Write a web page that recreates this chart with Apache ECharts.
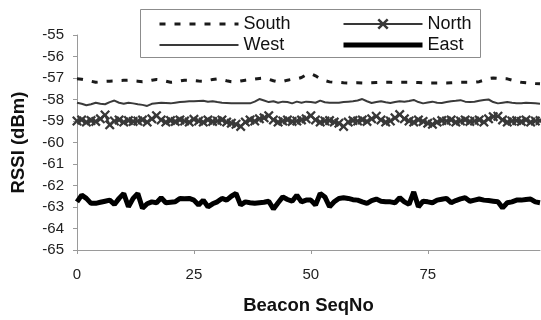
<!DOCTYPE html>
<html>
<head>
<meta charset="utf-8">
<script src="https://cdn.jsdelivr.net/npm/echarts@6/dist/echarts.min.js"></script>
<style>
html,body{margin:0;padding:0;background:#fff;}
#c{width:541px;height:320px;}
</style>
</head>
<body>
<div id="c"></div>
<script>
var seqNo = [];
for (var k = 0; k < 100; k++) seqNo.push(k);

var xTicks = [0, 25, 50, 75];
var yTicks = [-55, -56, -57, -58, -59, -60, -61, -62, -63, -64, -65];

var south = [-57.04,-57.06,-57.1,-57.15,-57.2,-57.18,-57.16,-57.15,-57.14,-57.12,
-57.11,-57.1,-57.13,-57.15,-57.17,-57.14,-57.1,-57.07,-57.1,-57.15,
-57.2,-57.18,-57.14,-57.1,-57.1,-57.12,-57.14,-57.15,-57.11,-57.07,
-57.04,-57.08,-57.13,-57.17,-57.18,-57.14,-57.1,-57.07,-57.05,-57.02,
-57.0,-57.06,-57.13,-57.18,-57.16,-57.1,-57.06,-57.04,-56.98,-56.85,
-56.8,-56.9,-57.04,-57.12,-57.18,-57.2,-57.2,-57.22,-57.23,-57.23,
-57.22,-57.23,-57.23,-57.22,-57.21,-57.2,-57.2,-57.2,-57.21,-57.2,
-57.2,-57.2,-57.2,-57.21,-57.22,-57.23,-57.23,-57.23,-57.23,-57.23,
-57.22,-57.21,-57.2,-57.2,-57.2,-57.2,-57.17,-57.1,-57.03,-57.0,
-57.02,-57.03,-57.04,-57.1,-57.16,-57.2,-57.22,-57.24,-57.26,-57.27];

var north = [-59.0,-58.95,-59.05,-58.98,-59.02,-58.9,-58.72,-59.18,-59.0,-58.95,
-59.05,-58.98,-59.02,-59.0,-58.95,-59.05,-58.9,-58.75,-58.95,-59.05,
-58.98,-59.02,-58.95,-59.0,-59.05,-58.92,-59.0,-59.05,-58.95,-59.02,
-59.0,-58.95,-59.05,-59.1,-59.15,-59.25,-59.05,-58.95,-59.0,-58.9,
-58.85,-58.75,-58.95,-59.05,-59.0,-58.95,-59.02,-59.0,-58.95,-58.9,
-58.75,-58.95,-59.05,-59.0,-58.98,-59.05,-59.1,-59.25,-59.05,-58.98,
-59.0,-58.95,-59.02,-58.9,-58.78,-58.95,-59.05,-59.0,-58.85,-58.7,
-58.9,-59.0,-59.05,-58.95,-59.02,-59.1,-59.15,-59.05,-58.98,-59.0,
-58.95,-59.05,-59.0,-58.95,-59.02,-59.0,-58.95,-59.05,-58.9,-58.8,
-58.78,-58.95,-59.05,-59.0,-58.98,-59.02,-58.95,-59.05,-59.0,-58.98];

var west = [-58.15,-58.2,-58.27,-58.22,-58.15,-58.2,-58.22,-58.12,-58.05,-58.15,
-58.2,-58.15,-58.18,-58.22,-58.25,-58.3,-58.2,-58.17,-58.15,-58.16,
-58.18,-58.15,-58.12,-58.1,-58.08,-58.08,-58.07,-58.06,-58.1,-58.08,
-58.12,-58.15,-58.16,-58.18,-58.18,-58.17,-58.18,-58.18,-58.1,-57.98,
-58.05,-58.12,-58.08,-58.15,-58.1,-58.12,-58.18,-58.1,-58.15,-58.1,
-58.12,-58.15,-58.05,-58.13,-58.15,-58.15,-58.15,-58.12,-58.1,-58.08,
-58.05,-57.98,-58.08,-58.16,-58.12,-58.08,-58.13,-58.16,-58.12,-58.08,
-58.1,-58.07,-58.02,-58.12,-58.18,-58.14,-58.1,-58.15,-58.16,-58.12,
-58.08,-58.06,-58.03,-58.1,-58.12,-58.1,-58.06,-58.02,-58.0,-58.12,
-58.18,-58.15,-58.12,-58.15,-58.17,-58.17,-58.15,-58.16,-58.18,-58.2];

var east = [-62.76,-62.45,-62.6,-62.83,-62.83,-62.78,-62.73,-62.68,-62.88,-62.6,
-62.37,-62.99,-62.6,-62.37,-63.06,-62.85,-62.76,-62.8,-62.57,-62.8,
-62.78,-62.76,-62.6,-62.62,-62.6,-62.68,-62.91,-62.68,-62.99,-62.85,
-62.76,-62.6,-62.68,-62.5,-62.37,-62.91,-62.76,-62.8,-62.83,-62.8,
-62.78,-62.73,-63.09,-62.8,-62.53,-62.65,-62.73,-62.45,-62.76,-62.68,
-62.68,-62.91,-62.37,-62.53,-62.99,-62.76,-62.6,-62.57,-62.6,-62.66,
-62.68,-62.76,-62.83,-62.7,-62.63,-62.73,-62.76,-62.76,-62.8,-62.57,
-62.76,-62.88,-62.3,-62.99,-62.73,-62.76,-62.8,-62.68,-62.64,-62.6,
-62.8,-62.7,-62.62,-62.57,-62.73,-62.68,-62.63,-62.68,-62.7,-62.73,
-62.76,-63.04,-62.8,-62.76,-62.68,-62.68,-62.65,-62.63,-62.76,-62.8];

function pairs(vals) {
  return vals.map(function (v, i) { return [seqNo[i], v]; });
}

var FONT = '"Liberation Sans", Arial, sans-serif';
var xMark = 'path://M0,1.6L1.6,0L5,3.4L8.4,0L10,1.6L6.6,5L10,8.4L8.4,10L5,6.6L1.6,10L0,8.4L3.4,5Z';
var hideSym = {opacity: 0};

var chart = echarts.init(document.getElementById('c'), null, {renderer: 'canvas'});
chart.setOption({
  animation: false,
  backgroundColor: '#ffffff',
  textStyle: {fontFamily: FONT},
  grid: {left: 77, right: 1, top: 35, bottom: 68, containLabel: false},
  graphic: [{
    type: 'rect', left: 140, top: 9, z: 0,
    shape: {width: 340, height: 48},
    style: {fill: '#fff', stroke: '#8c8c8c', lineWidth: 1}
  }],
  legend: [{
    orient: 'vertical', left: 153, top: 10, itemWidth: 79, itemHeight: 14, itemGap: 3,
    data: [
      {name: 'South', itemStyle: hideSym, lineStyle: {width: 3, type: [6, 9]}},
      {name: 'West', itemStyle: hideSym, lineStyle: {width: 2}}
    ], z: 5,
    textStyle: {fontFamily: FONT, fontSize: 18, color: '#111'}
  }, {
    orient: 'vertical', left: 336, top: 10, itemWidth: 79, itemHeight: 14, itemGap: 3,
    data: [
      {name: 'North', lineStyle: {width: 2}},
      {name: 'East', itemStyle: hideSym, lineStyle: {width: 5}}
    ], z: 5,
    textStyle: {fontFamily: FONT, fontSize: 18, color: '#111'}
  }],
  xAxis: {
    type: 'value', min: 0, max: 99, interval: 25,
    name: 'Beacon SeqNo', nameLocation: 'middle', nameGap: 46,
    nameTextStyle: {fontFamily: FONT, fontSize: 18.5, fontWeight: 'bold', color: '#111'},
    axisLine: {onZero: false, lineStyle: {color: '#9a9a9a', width: 1}},
    axisTick: {show: true, length: 4, lineStyle: {color: '#9a9a9a'}},
    axisLabel: {fontFamily: FONT, fontSize: 15, color: '#222', margin: 17, showMaxLabel: false,
      formatter: function (v) { return xTicks.indexOf(v) >= 0 ? String(v) : ''; }},
    splitLine: {show: false}
  },
  yAxis: {
    type: 'value', min: -65, max: -55, interval: 1,
    name: 'RSSI (dBm)', nameLocation: 'middle', nameGap: 49, nameRotate: 90,
    nameTextStyle: {fontFamily: FONT, fontSize: 18.5, fontWeight: 'bold', color: '#111'},
    axisLine: {show: true, lineStyle: {color: '#9a9a9a', width: 1}},
    axisTick: {show: true, length: 4, lineStyle: {color: '#9a9a9a'}},
    axisLabel: {fontFamily: FONT, fontSize: 15, color: '#222', margin: 13,
      formatter: function (v) { return yTicks.indexOf(v) >= 0 ? String(v) : ''; }},
    splitLine: {show: false}
  },
  series: [{
    name: 'South', type: 'line', data: pairs(south), symbol: 'none', z: 3,
    lineStyle: {color: '#1a1a1a', width: 3, type: [6, 9]},
    itemStyle: {color: '#1a1a1a'}
  }, {
    name: 'North', type: 'line', data: pairs(north), symbol: xMark, symbolSize: 10, z: 3,
    showSymbol: true,
    lineStyle: {color: '#383838', width: 2},
    itemStyle: {color: '#383838'}
  }, {
    name: 'West', type: 'line', data: pairs(west), symbol: 'none', z: 3,
    lineStyle: {color: '#3a3a3a', width: 2},
    itemStyle: {color: '#3a3a3a'}
  }, {
    name: 'East', type: 'line', data: pairs(east), symbol: 'none', z: 3,
    lineStyle: {color: '#000', width: 5},
    itemStyle: {color: '#000'}
  }]
});
</script>
</body>
</html>
